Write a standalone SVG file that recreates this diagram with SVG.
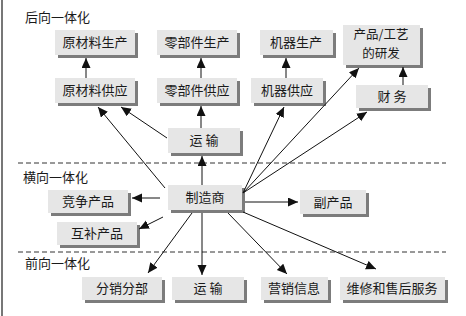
<svg xmlns="http://www.w3.org/2000/svg" width="466" height="316" viewBox="0 0 466 316">
<style>
.box{fill:#e6e6e6}
.sh{fill:#7c7c7c}
.t{font-family:"Noto Sans CJK SC","Liberation Sans",sans-serif;font-size:13px;fill:#1a1a1a;text-anchor:middle}
.t2{font-size:12.5px}
.lab{font-family:"Noto Sans CJK SC","Liberation Sans",sans-serif;font-size:13px;fill:#1a1a1a}
.c{stroke:#111;stroke-width:1;fill:none;marker-end:url(#ah)}
.dash{stroke:#333;stroke-width:1;stroke-dasharray:5,3}
</style>
<defs>
<marker id="ah" markerUnits="userSpaceOnUse" markerWidth="11" markerHeight="10" refX="10" refY="4.5" orient="auto">
<path d="M0,0 L10,4.5 L0,9 z" fill="#111"/>
</marker>
</defs>
<rect width="466" height="316" fill="#fff"/>
<line x1="2" y1="0" x2="2" y2="316" stroke="#777" stroke-width="2"/>
<line class="dash" x1="18" y1="163" x2="446" y2="163"/>
<line class="dash" x1="18" y1="252" x2="446" y2="252"/>
<text class="lab" x="25" y="22">后向一体化</text>
<text class="lab" x="23" y="182">横向一体化</text>
<text class="lab" x="25" y="268">前向一体化</text>

<g id="rm_prod"><rect class="sh" x="58" y="33" width="80" height="25"/><rect class="box" x="55" y="30" width="80" height="25"/><text class="t" x="95" y="47">原材料生产</text></g>
<g id="pt_prod"><rect class="sh" x="160" y="33" width="80" height="25"/><rect class="box" x="157" y="30" width="80" height="25"/><text class="t" x="197" y="47">零部件生产</text></g>
<g id="mc_prod"><rect class="sh" x="263" y="33" width="73" height="25"/><rect class="box" x="260" y="30" width="73" height="25"/><text class="t" x="296" y="47">机器生产</text></g>
<g id="rd"><rect class="sh" x="346" y="28" width="77" height="40"/><rect class="box" x="343" y="25" width="77" height="40"/><text class="t t2" x="381" y="39">产品/工艺</text><text class="t t2" x="381" y="58">的研发</text></g>
<g id="rm_sup"><rect class="sh" x="58" y="81" width="80" height="25"/><rect class="box" x="55" y="78" width="80" height="25"/><text class="t" x="95" y="95">原材料供应</text></g>
<g id="pt_sup"><rect class="sh" x="160" y="81" width="80" height="25"/><rect class="box" x="157" y="78" width="80" height="25"/><text class="t" x="197" y="95">零部件供应</text></g>
<g id="mc_sup"><rect class="sh" x="254" y="81" width="72" height="25"/><rect class="box" x="251" y="78" width="72" height="25"/><text class="t" x="287" y="95">机器供应</text></g>
<g id="fin"><rect class="sh" x="359" y="88" width="72" height="23"/><rect class="box" x="356" y="85" width="72" height="23"/><text class="t" x="392" y="101">财  务</text></g>
<g id="trans1"><rect class="sh" x="171" y="131" width="72" height="25"/><rect class="box" x="168" y="128" width="72" height="25"/><text class="t" x="204" y="145">运  输</text></g>
<g id="mfr"><rect class="sh" x="171" y="188" width="74" height="25"/><rect class="box" x="168" y="185" width="74" height="25"/><text class="t" x="205" y="202">制造商</text></g>
<g id="comp"><rect class="sh" x="51" y="193" width="80" height="23"/><rect class="box" x="48" y="190" width="80" height="23"/><text class="t" x="88" y="206">竞争产品</text></g>
<g id="compl"><rect class="sh" x="60" y="225" width="80" height="23"/><rect class="box" x="57" y="222" width="80" height="23"/><text class="t" x="97" y="238">互补产品</text></g>
<g id="byp"><rect class="sh" x="303" y="193" width="66" height="24"/><rect class="box" x="300" y="190" width="66" height="24"/><text class="t" x="333" y="207">副产品</text></g>
<g id="dist"><rect class="sh" x="85" y="280" width="80" height="23"/><rect class="box" x="82" y="277" width="80" height="23"/><text class="t" x="122" y="293">分销分部</text></g>
<g id="trans2"><rect class="sh" x="175" y="280" width="72" height="23"/><rect class="box" x="172" y="277" width="72" height="23"/><text class="t" x="208" y="293">运  输</text></g>
<g id="mkt"><rect class="sh" x="264" y="280" width="67" height="23"/><rect class="box" x="261" y="277" width="67" height="23"/><text class="t" x="294" y="293">营销信息</text></g>
<g id="svc"><rect class="sh" x="343" y="280" width="105" height="23"/><rect class="box" x="340" y="277" width="105" height="23"/><text class="t" x="392" y="293">维修和售后服务</text></g>

<g id="connectors">
<path class="c" d="M165,188 L98,107"/>
<path class="c" d="M167,138 L121,107"/>
<path class="c" d="M86,78 L86,58"/>
<path class="c" d="M201,78 L201,58"/>
<path class="c" d="M286,78 L286,58"/>
<path class="c" d="M403,85 L403,67"/>
<path class="c" d="M201,128 L201,106"/>
<path class="c" d="M202,185 L202,156"/>
<path class="c" d="M243,193 L284,107"/>
<path class="c" d="M243,193 L359,68"/>
<path class="c" d="M243,193 L367,112"/>
<path class="c" d="M245,202 L298,202"/>
<path class="c" d="M160,198 L132,198"/>
<path class="c" d="M163,217 L139,229"/>
<path class="c" d="M192,213 L148,273"/>
<path class="c" d="M202,213 L202,275"/>
<path class="c" d="M228,213 L287,274"/>
<path class="c" d="M243,212 L376,269"/>
</g>
</svg>
